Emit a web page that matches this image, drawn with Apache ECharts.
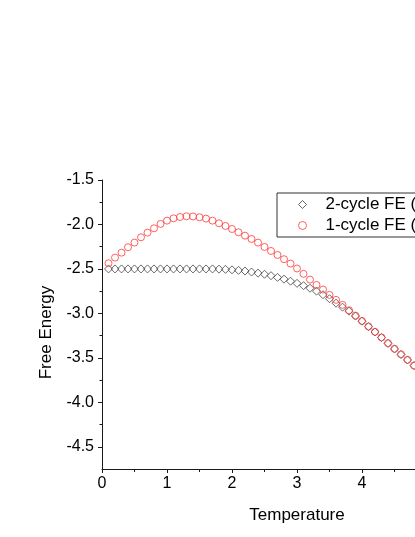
<!DOCTYPE html>
<html>
<head>
<meta charset="utf-8">
<script src="https://cdn.jsdelivr.net/npm/echarts@6/dist/echarts.min.js"></script>
<style>
  html, body { margin: 0; padding: 0; background: #fff; }
  #chart { width: 415px; height: 537px; }
</style>
</head>
<body>
<div id="chart"></div>
<script>
// temperature steps (0.1 .. 5.0)
const temps = [0.1, 0.2, 0.3, 0.4, 0.5, 0.6, 0.7, 0.8, 0.9, 1.0,
  1.1, 1.2, 1.3, 1.4, 1.5, 1.6, 1.7, 1.8, 1.9, 2.0,
  2.1, 2.2, 2.3, 2.4, 2.5, 2.6, 2.7, 2.8, 2.9, 3.0,
  3.1, 3.2, 3.3, 3.4, 3.5, 3.6, 3.7, 3.8, 3.9, 4.0,
  4.1, 4.2, 4.3, 4.4, 4.5, 4.6, 4.7, 4.8, 4.9, 5.0];

// 2-cycle free energy (black diamonds)
const fe2 = [-2.50, -2.50, -2.50, -2.50, -2.50, -2.50, -2.50, -2.50, -2.50, -2.50,
  -2.50, -2.50, -2.50, -2.50, -2.50, -2.50, -2.50, -2.502, -2.505, -2.51,
  -2.516, -2.524, -2.535, -2.547, -2.56, -2.576, -2.595, -2.615, -2.638, -2.662,
  -2.688, -2.717, -2.75, -2.79, -2.835, -2.885, -2.93, -2.975, -3.03, -3.088,
  -3.149, -3.209, -3.272, -3.337, -3.4, -3.462, -3.524, -3.588, -3.652, -3.712];

// 1-cycle free energy (red circles)
const fe1 = [-2.436, -2.373, -2.317, -2.256, -2.204, -2.144, -2.092, -2.043, -1.994, -1.957,
  -1.931, -1.916, -1.908, -1.910, -1.919, -1.934, -1.957, -1.987, -2.017, -2.051,
  -2.088, -2.126, -2.163, -2.204, -2.253, -2.298, -2.343, -2.391, -2.44, -2.495,
  -2.555, -2.62, -2.68, -2.732, -2.792, -2.848, -2.904, -2.965, -3.025, -3.085,
  -3.147, -3.207, -3.27, -3.335, -3.398, -3.46, -3.522, -3.586, -3.65, -3.71];

const yMajor = [-4.5, -4.0, -3.5, -3.0, -2.5, -2.0, -1.5];
const yMinor = [-4.25, -3.75, -3.25, -2.75, -2.25, -1.75];

const font = 'Liberation Sans, Arial, sans-serif';
const axisColor = '#1a1a1a';

const chart = echarts.init(document.getElementById('chart'), null, { renderer: 'canvas' });

const option = {
  animation: false,
  backgroundColor: '#fff',
  textStyle: { fontFamily: font, color: '#000' },
  // plot runs past the right edge of the window, as in the original crop
  grid: { left: 102, top: 180, width: 390, height: 289, outerBoundsMode: 'none', containLabel: false },
  legend: {
    orient: 'vertical',
    left: 277,
    top: 193,
    padding: [3, 12, 3, 21],
    itemGap: 4,
    itemWidth: 8,
    itemHeight: 8,
    borderColor: '#333',
    borderWidth: 1,
    borderRadius: 0,
    itemStyle: { borderWidth: 1 },
    textStyle: { fontSize: 17, color: '#000', lineHeight: 16, padding: [0, 0, 0, 14] }
  },
  xAxis: {
    type: 'value',
    min: 0,
    max: 6,
    interval: 1,
    name: 'Temperature',
    nameLocation: 'middle',
    nameGap: 38,
    nameTextStyle: { fontSize: 17, color: '#000' },
    axisLine: { onZero: false, lineStyle: { color: axisColor, width: 1 } },
    axisTick: { length: 4, lineStyle: { color: axisColor } },
    minorTick: { show: true, splitNumber: 2, length: 3, lineStyle: { color: axisColor } },
    axisLabel: { fontSize: 16, color: '#000', margin: 7 },
    splitLine: { show: false }
  },
  yAxis: [
    {
      type: 'value',
      min: -4.75,
      max: -1.5,
      name: 'Free Energy',
      nameLocation: 'middle',
      nameGap: 47,
      nameTextStyle: { fontSize: 17, color: '#000', padding: [0, 16, 0, 0] },
      axisLine: { onZero: false, lineStyle: { color: axisColor, width: 1 } },
      axisTick: { length: 4, customValues: yMajor, lineStyle: { color: axisColor } },
      axisLabel: {
        fontSize: 16, color: '#000', margin: 8,
        customValues: yMajor,
        formatter: v => v.toFixed(1)
      },
      splitLine: { show: false }
    },
    {
      type: 'value',
      min: -4.75,
      max: -1.5,
      position: 'left',
      axisLine: { show: false },
      axisTick: { show: true, length: 2.5, customValues: yMinor, lineStyle: { color: axisColor } },
      axisLabel: { show: false },
      splitLine: { show: false }
    }
  ],
  series: [
    {
      name: '2-cycle FE (exact)',
      type: 'scatter',
      symbol: 'diamond',
      symbolSize: 8,
      itemStyle: { color: 'rgba(0,0,0,0)', borderColor: '#444', borderWidth: 1 },
      data: temps.map((t, i) => [t, fe2[i]])
    },
    {
      name: '1-cycle FE (exact)',
      type: 'scatter',
      symbol: 'circle',
      symbolSize: 7,
      itemStyle: { color: 'rgba(0,0,0,0)', borderColor: '#ff3b3b', borderWidth: 1 },
      data: temps.map((t, i) => [t, fe1[i]])
    }
  ]
};

chart.setOption(option);
</script>
</body>
</html>
